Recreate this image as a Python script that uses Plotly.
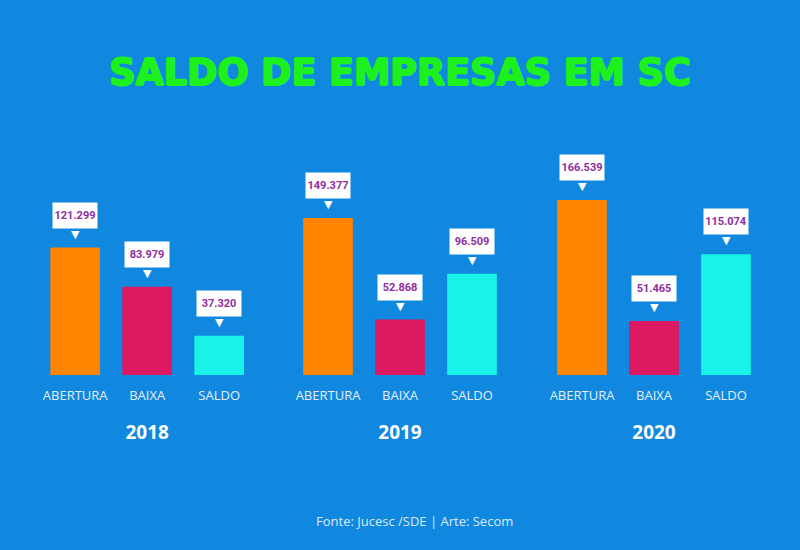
import plotly.graph_objects as go
from plotly.subplots import make_subplots

years = ['2018', '2019', '2020']
categories = ['ABERTURA', 'BAIXA', 'SALDO']
abertura = [121299, 149377, 166539]
baixa = [83979, 52868, 51465]
saldo = [37320, 96509, 115074]

bar_colors = ['#FF8400', '#DC1860', '#19F2E6']
bg = '#1088E0'
green = '#1EF01E'


def fmt(v):
    return f'{v:,}'.replace(',', '.')


fig = make_subplots(rows=1, cols=3, horizontal_spacing=0.04)

for i, year in enumerate(years):
    vals = [abertura[i], baixa[i], saldo[i]]
    fig.add_trace(go.Bar(x=categories, y=vals, marker=dict(color=bar_colors, line_width=0),
                         hoverinfo='x+y', showlegend=False), row=1, col=i + 1)
    xref = 'x' if i == 0 else f'x{i + 1}'
    yref = 'y' if i == 0 else f'y{i + 1}'
    for c, v in zip(categories, vals):
        # white callout box with the value
        fig.add_annotation(x=c, y=v, xref=xref, yref=yref, text=f'<b>{fmt(v)}</b>',
                           showarrow=False, yanchor='bottom', yshift=19,
                           bgcolor='white', width=42, height=23,
                           font=dict(family='Roboto', size=11, color='#8E2D9C'))
        # little pointer under the box
        fig.add_annotation(x=c, y=v, xref=xref, yref=yref, text='▼',
                           showarrow=False, yanchor='bottom', yshift=5,
                           font=dict(family='DejaVu Sans', size=11, color='white'))

domains = [[0.049, 0.319], [0.365, 0.635], [0.6825, 0.9525]]
for i, year in enumerate(years):
    fig.update_xaxes(domain=domains[i], showgrid=False, zeroline=False, showline=False,
                     ticks='outside', ticklen=8, tickcolor='rgba(0,0,0,0)',
                     tickfont=dict(family='Open Sans', size=13, color='#E6EEF6'),
                     title=dict(text=f'<b>{year}</b>', standoff=22,
                                font=dict(family='Open Sans', size=19, color='white')),
                     row=1, col=i + 1)
    fig.update_yaxes(domain=[0.318, 0.727], range=[0, 214000], visible=False,
                     row=1, col=i + 1)

fig.update_layout(
    width=800, height=550,
    margin=dict(l=0, r=0, t=0, b=0),
    paper_bgcolor=bg, plot_bgcolor=bg,
    bargap=0.31,
    title=dict(text='<b>SALDO DE EMPRESAS EM SC</b>', x=0.5, xanchor='center',
               y=0.868, yanchor='middle',
               font=dict(family='DejaVu Sans', size=36.5, color=green,
                         shadow=f'1px 0 0 {green}, -1px 0 0 {green}, 0 1px 0 {green}, 0 -1px 0 {green}')),
)

fig.add_annotation(text='Fonte: Jucesc /SDE | Arte: Secom', xref='paper', yref='paper',
                   x=0.518, y=0.052, showarrow=False, xanchor='center', yanchor='middle',
                   font=dict(family='Open Sans', size=13, color='#DCEAF8'))

fig.write_html('out.html', config={'displayModeBar': False},
               post_script="document.body.style.margin='0';")
